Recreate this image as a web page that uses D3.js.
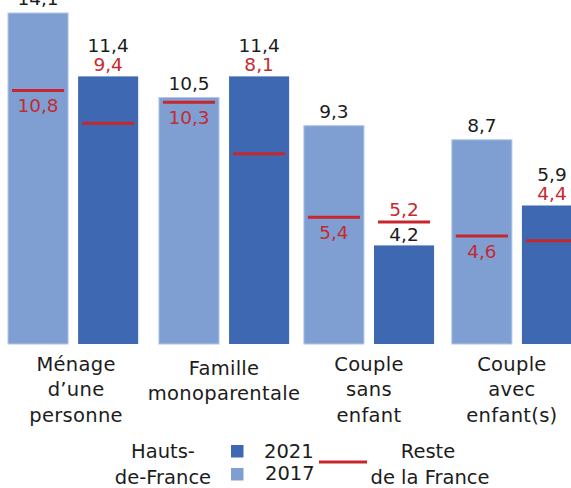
<!DOCTYPE html>
<html><head><meta charset="utf-8">
<script src="https://cdn.jsdelivr.net/npm/d3@7"></script>
<style>
html,body{margin:0;padding:0;background:#fff;overflow:hidden;}
svg{display:block;}
text{font-family:"DejaVu Sans",sans-serif;}
</style></head>
<body>
<svg id="chart" width="571" height="488"></svg>
<script>
// ---- data ----
const categories = ["Ménage d’une personne", "Famille monoparentale", "Couple sans enfant", "Couple avec enfant(s)"];
const categoryLines = [["Ménage", "d’une", "personne"], ["Famille", "monoparentale"], ["Couple", "sans", "enfant"], ["Couple", "avec", "enfant(s)"]];
const years = ["2017", "2021"];
const hdf2017 = [14.1, 10.5, 9.3, 8.7];
const hdf2021 = [11.4, 11.4, 4.2, 5.9];
const rest2017 = [10.8, 10.3, 5.4, 4.6];
const rest2021 = [9.4, 8.1, 5.2, 4.4];

const colors = {"2017": "#7f9fd3", "2021": "#3f68b3"};
const red = "#c8262d";
const redText = "#c52a30";
const textCol = "#1c1c1c";
const fmt = v => String(v.toFixed(1)).replace(".", ",");

const svg = d3.select("#chart");

const x0 = d3.scaleBand().domain(categories).range([8, 582]).paddingInner(0.12).paddingOuter(0);
const x1 = d3.scaleBand().domain(years).range([0, x0.bandwidth()]).paddingInner(0.143).paddingOuter(0);
const y = d3.scaleLinear().domain([0, 14.1]).range([344, 13]);
const groupNudge = [0, 3, 0, 0];

const rows = [];
categories.forEach((c, i) => {
  rows.push({cat: c, i: i, year: "2017", v: hdf2017[i], ref: rest2017[i]});
  rows.push({cat: c, i: i, year: "2021", v: hdf2021[i], ref: rest2021[i]});
});

const bx = d => x0(d.cat) + x1(d.year) + groupNudge[d.i];
const cx = d => bx(d) + x1.bandwidth() / 2;

const g = svg.append("g");

// bars
g.selectAll("rect.bar").data(rows).join("rect")
  .attr("class", "bar")
  .attr("x", bx)
  .attr("y", d => y(d.v))
  .attr("width", x1.bandwidth())
  .attr("height", d => y(0) - y(d.v))
  .attr("fill", d => colors[d.year])
  .attr("stroke", d => d.year === "2017" ? "#b3c6ea" : "none")
  .attr("stroke-width", 1);

// reference lines
g.selectAll("line.ref").data(rows).join("line")
  .attr("class", "ref")
  .attr("x1", d => bx(d) + 4)
  .attr("x2", d => bx(d) + x1.bandwidth() - 4)
  .attr("y1", d => y(d.ref))
  .attr("y2", d => y(d.ref))
  .attr("stroke", red)
  .attr("stroke-width", 3);

// value labels (HdF)
g.selectAll("text.val").data(rows).join("text")
  .attr("class", "val")
  .attr("x", cx)
  .attr("y", d => {
    if (d.year === "2017") return y(d.v) - 8;
    return d.ref < d.v ? y(d.v) - 24 : y(d.v) - 4;
  })
  .attr("text-anchor", "middle")
  .attr("font-size", 18.5)
  .attr("fill", textCol)
  .text(d => fmt(d.v));

// reference value labels
g.selectAll("text.refval").data(rows).join("text")
  .attr("class", "refval")
  .attr("x", cx)
  .attr("y", d => {
    if (d.year === "2017") return y(d.ref) + 22;
    return d.ref < d.v ? y(d.v) - 5 : y(d.ref) - 6;
  })
  .attr("text-anchor", "middle")
  .attr("font-size", 18.5)
  .attr("fill", redText)
  .text(d => fmt(d.ref));

// category labels
const catBaselines = [370.5, 374.5, 370.5, 370.5];
const catNudge = [3, 0, 0, -5];
categories.forEach((c, i) => {
  const xx = x0(c) + x0.bandwidth() / 2 + catNudge[i] + groupNudge[i];
  const t = g.append("text")
    .attr("text-anchor", "middle")
    .attr("font-size", 19.5)
    .attr("letter-spacing", 0.3)
    .attr("fill", textCol)
    .attr("x", xx)
    .attr("y", catBaselines[i]);
  categoryLines[i].forEach((line, k) => {
    t.append("tspan")
      .attr("x", xx)
      .attr("dy", k === 0 ? 0 : 25.5)
      .text(line);
  });
});

// legend
const lg = svg.append("g");
const legendText = (txt, xx, yy, anchor) => lg.append("text")
  .attr("x", xx).attr("y", yy).attr("text-anchor", anchor || "middle")
  .attr("font-size", 19.5).attr("fill", textCol).text(txt);
legendText("Hauts-", 163, 457.5);
legendText("de-France", 163, 483.5);
lg.append("rect").attr("x", 231).attr("y", 445).attr("width", 12.5).attr("height", 12.5).attr("fill", colors["2021"]);
lg.append("rect").attr("x", 231).attr("y", 468).attr("width", 12.5).attr("height", 12.5).attr("fill", colors["2017"]);
legendText(years[1], 264, 457.5, "start");
legendText(years[0], 265, 480, "start");
lg.append("line").attr("x1", 319).attr("x2", 367).attr("y1", 462).attr("y2", 462)
  .attr("stroke", red).attr("stroke-width", 3);
legendText("Reste", 428, 457.5);
legendText("de la France", 430, 483.5);
</script>
</body></html>
